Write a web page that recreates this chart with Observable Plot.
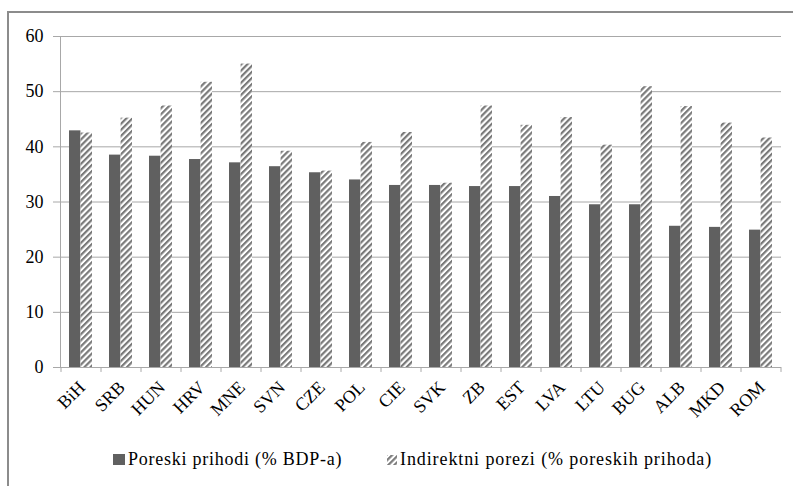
<!DOCTYPE html>
<html>
<head>
<meta charset="utf-8">
<script src="https://cdn.jsdelivr.net/npm/d3@7"></script>
<script src="https://cdn.jsdelivr.net/npm/@observablehq/plot@0.6"></script>
<style>
  html, body { margin: 0; padding: 0; background: white; }
  #wrap { position: relative; width: 793px; height: 486px; overflow: hidden; font-family: "Liberation Serif", "Times New Roman", Times, serif; }
  #border { position: absolute; left: 7px; top: 11px; width: 900px; height: 600px; border-left: 2px solid #8c8c8c; border-top: 2px solid #8c8c8c; }
  #chart { position: absolute; left: 0; top: 0; }
  #legend { position: absolute; left: 0; top: 420px; }
  svg text { font-family: "Liberation Serif", "Times New Roman", Times, serif; }
</style>
</head>
<body>
<div id="wrap">
  <div id="border"></div>
  <div id="chart"></div>
  <div id="legend"></div>
</div>
<script>
const countries = ["BiH","SRB","HUN","HRV","MNE","SVN","CZE","POL","CIE","SVK","ZB","EST","LVA","LTU","BUG","ALB","MKD","ROM"];
const poreskiPrihodi = [42.9,38.5,38.3,37.7,37.1,36.4,35.3,34.0,33.0,33.0,32.8,32.8,31.0,29.5,29.5,25.6,25.4,24.9];
const indirektniPorezi = [42.5,45.2,47.4,51.7,55.0,39.2,35.6,40.8,42.6,33.4,47.4,43.9,45.3,40.3,50.9,47.3,44.3,41.6];
const yTicks = [0,10,20,30,40,50,60];
const seriesNames = ["Poreski prihodi (% BDP-a)", "Indirektni porezi (% poreskih prihoda)"];

const rows = countries.map((c, i) => ({country: c, poreski: poreskiPrihodi[i], indirektni: indirektniPorezi[i]}));

const serif = "'Liberation Serif', 'Times New Roman', Times, serif";
const solid = "#606060";
const hatchStroke = "#7a7a7a";
const gridColor = "#a8a8a8";

function hatchDefs(id) {
  return () => {
    const defs = d3.create("svg:defs");
    const p = defs.append("pattern").attr("id", id).attr("patternUnits", "userSpaceOnUse")
      .attr("width", 4.3).attr("height", 4.3).attr("patternTransform", "rotate(45)");
    p.append("rect").attr("width", 4.3).attr("height", 4.3).attr("fill", "white");
    p.append("line").attr("x1", 1.1).attr("x2", 1.1).attr("y1", 0).attr("y2", 4.3)
      .attr("stroke", hatchStroke).attr("stroke-width", 2.2);
    return defs.node();
  };
}

const chart = Plot.plot({
  width: 793,
  height: 420,
  marginLeft: 60,
  marginRight: 12,
  marginTop: 36,
  marginBottom: 53,
  style: {background: "transparent", fontFamily: serif, fontSize: "18px", color: "black"},
  x: {type: "band", domain: countries, paddingInner: 0.42, paddingOuter: 0.21, label: null},
  y: {domain: [0, 60], label: null},
  marks: [
    hatchDefs("hatch"),
    Plot.gridY(yTicks, {stroke: gridColor, strokeOpacity: 1}),
    Plot.frame({anchor: "left", stroke: gridColor, strokeOpacity: 1}),
    Plot.barY(rows, {x: "country", y: "poreski", fill: solid, insetRight: 11.6}),
    Plot.barY(rows, {x: "country", y: "indirektni", fill: "url(#hatch)", insetLeft: 11.6}),
    Plot.ruleY([0], {stroke: gridColor}),
    Plot.ruleX(countries, {x: d => d, y1: 0, y2: -0.9, dx: -20, stroke: gridColor}),
    Plot.ruleX(countries.slice(-1), {x: d => d, y1: 0, y2: -0.9, dx: 20, stroke: gridColor}),
    Plot.axisY(yTicks, {tickSize: 7, tickPadding: 10, stroke: gridColor, fill: "black", fontSize: 18, fontFamily: serif, label: null}),
    Plot.axisX({tickSize: 0, tickPadding: 17, tickRotate: -45, dx: 1, fontSize: 18, fontFamily: serif, fill: "black", label: null})
  ]
});
document.getElementById("chart").appendChild(chart);

// Legend
const leg = d3.select("#legend").append("svg").attr("width", 793).attr("height", 66)
  .attr("font-family", serif).attr("font-size", 18);
leg.node().appendChild(hatchDefs("hatch2")());
const baseline = 45;
leg.append("rect").attr("x", 113).attr("y", 34).attr("width", 12).attr("height", 11).attr("fill", solid);
leg.append("text").attr("x", 128).attr("y", baseline).attr("letter-spacing", "0.75px").text(seriesNames[0]);
leg.append("rect").attr("x", 387).attr("y", 35).attr("width", 10).attr("height", 10).attr("fill", "url(#hatch2)");
leg.append("text").attr("x", 400).attr("y", baseline).attr("letter-spacing", "0.9px").text(seriesNames[1]);
</script>
</body>
</html>
